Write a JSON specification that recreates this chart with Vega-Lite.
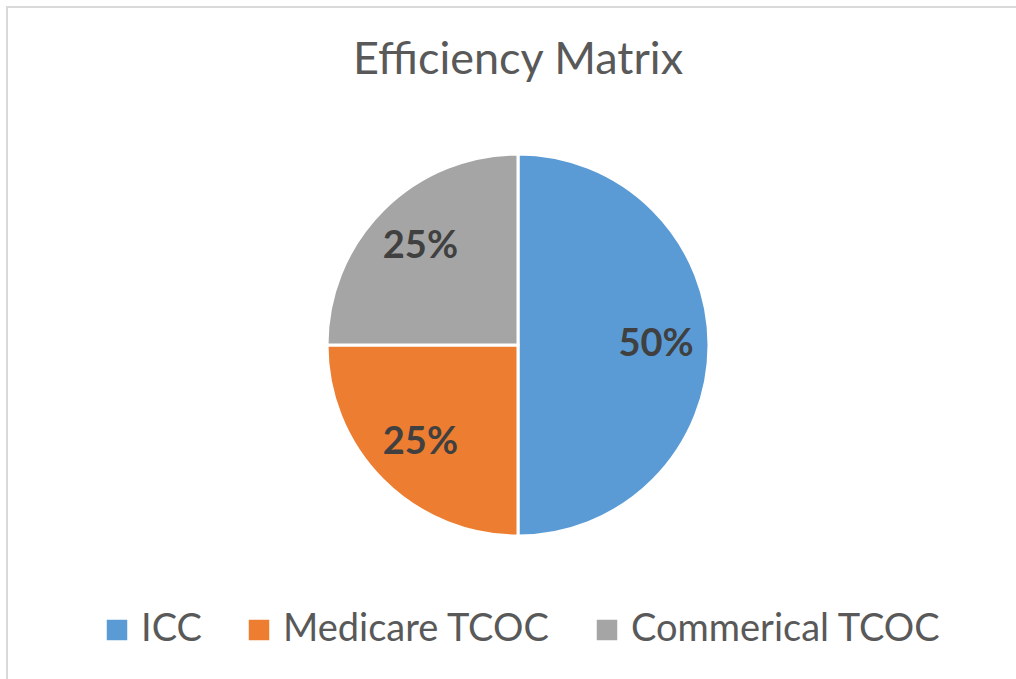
{
  "$schema": "https://vega.github.io/schema/vega-lite/v6.json",
  "width": 1022,
  "height": 676,
  "autosize": {"type": "none"},
  "padding": {"left": 7, "top": 7, "right": 0, "bottom": 0},
  "background": "white",
  "title": {
    "text": "Efficiency Matrix",
    "font": "Lato",
    "fontSize": 45,
    "fontWeight": "normal",
    "color": "#595959",
    "anchor": "middle",
    "baseline": "alphabetic",
    "offset": -113
  },
  "data": {
    "values": [
      {"category": "ICC", "value": 0.5, "order": 1},
      {"category": "Medicare TCOC", "value": 0.25, "order": 2},
      {"category": "Commerical TCOC", "value": 0.25, "order": 3}
    ]
  },
  "layer": [
    {
      "data": {"values": [{"frame": 1}]},
      "mark": {"type": "rect", "fill": "white", "stroke": "#d9d9d9", "strokeWidth": 2},
      "encoding": {}
    },
    {
      "mark": {"type": "arc", "outerRadius": 191, "stroke": "white", "strokeWidth": 3},
      "encoding": {
        "theta": {"field": "value", "type": "quantitative", "stack": true},
        "order": {"field": "order", "type": "quantitative"},
        "color": {
          "field": "category",
          "type": "nominal",
          "sort": ["ICC", "Medicare TCOC", "Commerical TCOC"],
          "scale": {
            "domain": ["ICC", "Medicare TCOC", "Commerical TCOC"],
            "range": ["#5B9BD5", "#ED7D31", "#A5A5A5"]
          },
          "legend": {
            "title": null,
            "orient": "none",
            "direction": "horizontal",
            "legendX": 91,
            "legendY": 604,
            "symbolType": "square",
            "symbolSize": 420,
            "symbolStrokeWidth": 0,
            "labelFont": "Lato",
            "labelFontSize": 38,
            "labelColor": "#595959",
            "labelOffset": 5,
            "labelLimit": 0,
            "columnPadding": 38,
            "padding": 0
          }
        }
      }
    },
    {
      "mark": {"type": "text", "radius": 138, "font": "Lato", "fontSize": 38, "fontWeight": "bold", "baseline": "middle", "align": "center"},
      "encoding": {
        "theta": {"field": "value", "type": "quantitative", "stack": true},
        "order": {"field": "order", "type": "quantitative"},
        "text": {"field": "value", "type": "quantitative", "format": ".0%"},
        "color": {"value": "#404040"}
      }
    }
  ],
  "config": {"view": {"stroke": null}}
}
